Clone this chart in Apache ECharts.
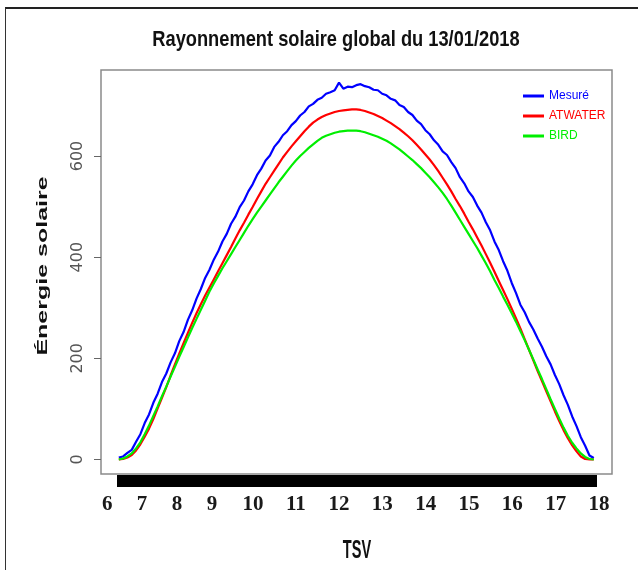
<!DOCTYPE html>
<html><head><meta charset="utf-8">
<script src="https://cdn.jsdelivr.net/npm/echarts@6/dist/echarts.min.js"></script>
<style>
html,body{margin:0;padding:0;background:#fff;}
#chart{width:638px;height:570px;position:relative;}
#frame{position:absolute;left:5px;top:7px;width:650px;height:580px;border-left:1.5px solid #333;border-top:2px solid #222;pointer-events:none;}
</style></head><body>
<div id="chart"></div><div id="frame"></div>
<script>
const tsv = [6.9,7.0,7.1,7.2,7.3,7.4,7.5,7.6,7.7,7.8,7.9,8.0,8.1,8.2,8.3,8.4,8.5,8.6,8.7,8.8,8.9,9.0,9.1,9.2,9.3,9.4,9.5,9.6,9.7,9.8,9.9,10.0,10.1,10.2,10.3,10.4,10.5,10.6,10.7,10.8,10.9,11.0,11.1,11.2,11.3,11.4,11.5,11.6,11.7,11.8,11.9,12.0,12.1,12.2,12.3,12.4,12.5,12.6,12.7,12.8,12.9,13.0,13.1,13.2,13.3,13.4,13.5,13.6,13.7,13.8,13.9,14.0,14.1,14.2,14.3,14.4,14.5,14.6,14.7,14.8,14.9,15.0,15.1,15.2,15.3,15.4,15.5,15.6,15.7,15.8,15.9,16.0,16.1,16.2,16.3,16.4,16.5,16.6,16.7,16.8,16.9,17.0,17.1,17.2,17.3,17.4,17.5,17.6,17.7,17.8,17.9];
const mesure = [4,6,13,19,35,50,72,89,112,130,153,170,192,210,234,252,276,295,318,337,359,375,395,411,431,446,466,480,499,512,530,544,562,575,591,601,618,628,641,649,661,669,680,687,698,703,711,715,723,726,730,745,733,737,736,740,742,738,736,731,730,723,720,713,710,701,697,687,681,670,663,651,643,631,622,609,602,588,576,558,546,530,519,502,488,469,453,431,414,392,373,349,329,306,291,272,257,239,223,204,188,167,149,127,108,85,66,44,27,8,3];
const atwater = [0,1,4,9,18,30,45,61,80,101,122,143,166,188,209,230,250,270,289,307,324,340,356,372,388,404,420,437,453,468,484,499,515,530,545,558,571,584,597,608,619,629,639,649,658,666,672,677,681,684,687,689,690,691,692,692,691,689,686,683,679,675,670,665,659,653,646,639,631,622,613,603,593,582,570,557,544,530,515,501,486,470,455,439,423,406,389,371,353,335,317,298,279,259,238,217,196,175,155,135,115,95,76,58,42,28,16,6,1,0,0];
const bird = [0,2,6,12,22,34,50,67,86,105,125,144,164,183,203,222,241,260,278,296,314,332,348,363,378,392,406,420,434,448,462,475,488,500,512,524,536,548,559,570,581,591,600,608,616,623,630,636,640,643,646,648,649,650,650,650,649,647,644,641,638,634,630,625,619,613,606,599,592,584,576,567,558,548,538,527,515,502,488,474,460,446,432,418,403,388,372,355,339,322,306,289,272,254,236,217,198,178,159,139,119,100,81,63,47,33,22,12,5,1,0];
const seriesNames = ['Mesuré', 'ATWATER', 'BIRD'];
const seriesColors = ['#0000ff', '#ff0000', '#00ee00'];
const xTickLabels = ['6','7','8','9','10','11','12','13','14','15','16','17','18'];
const xTickPos = [6.63,7.44,8.25,9.06,10.01,11.0,12.0,13.0,14.01,15.01,16.01,17.02,18.02];
const yTicks = [0,200,400,600];
const titleText = 'Rayonnement solaire global du 13/01/2018';
const xName = 'TSV';
const yName = 'Énergie solaire';

const chart = echarts.init(document.getElementById('chart'), null, {renderer: 'canvas'});
const values = [mesure, atwater, bird];
const xMin = 6.488, xMax = 18.322;

function label(text, x, y, font, sx, sy, rot) {
  return {
    type: 'text', x: x, y: y, scaleX: sx, scaleY: sy, rotation: rot || 0, silent: true,
    style: {text: text, font: font, fill: '#111', textAlign: 'center', textVerticalAlign: 'middle', align: 'center', verticalAlign: 'middle'}
  };
}

chart.setOption({
  animation: false,
  backgroundColor: '#fff',
  graphic: [
    label(titleText, 336, 40, 'bold 22px "Liberation Sans", Arial, sans-serif', 0.83, 1, 0),
    label(xName, 357, 551, 'bold 26px "Liberation Sans", Arial, sans-serif', 0.56, 1, 0),
    label(yName, 43, 266, 'bold 25px "Liberation Sans", Arial, sans-serif', 1, 0.58, Math.PI / 2)
  ],
  legend: {
    orient: 'vertical', left: 518, top: 85,
    itemWidth: 21, itemHeight: 3, itemGap: 8, icon: 'rect',
    textStyle: {fontFamily: '"Liberation Sans", Arial, sans-serif', fontSize: 12},
    data: seriesNames.map((n, i) => ({name: n, textStyle: {color: seriesColors[i]}}))
  },
  grid: {left: 101, top: 70, width: 511, height: 404, show: true, borderColor: '#8a8a8a', borderWidth: 1.5, backgroundColor: '#fff', containLabel: false},
  xAxis: [{
    type: 'value', min: xMin, max: xMax,
    axisLine: {show: false}, axisTick: {show: false}, splitLine: {show: false},
    axisLabel: {
      customValues: xTickPos, margin: 20,
      fontFamily: '"Liberation Serif", serif', fontWeight: 'bold', fontSize: 21, color: '#1a1a1a',
      formatter: function (v) {
        let best = 0;
        for (let i = 1; i < xTickPos.length; i++) if (Math.abs(xTickPos[i] - v) < Math.abs(xTickPos[best] - v)) best = i;
        return xTickLabels[best];
      }
    }
  }, {
    type: 'value', min: xMin, max: xMax, position: 'bottom', offset: 1,
    axisLine: {show: false}, axisLabel: {show: false}, splitLine: {show: false},
    axisTick: {show: true, customValues: tsv, length: 12, lineStyle: {color: '#000', width: 5}}
  }],
  yAxis: {
    type: 'value', min: -28.7, max: 770,
    axisLine: {show: false}, splitLine: {show: false},
    axisTick: {show: true, customValues: yTicks, length: 7, lineStyle: {color: '#666', width: 1}},
    axisLabel: {customValues: yTicks, rotate: 90, margin: 15, color: '#555', fontFamily: '"DejaVu Sans", sans-serif', fontSize: 16}
  },
  series: seriesNames.map((n, i) => ({
    name: n, type: 'line', xAxisIndex: 0, showSymbol: false, symbol: 'none',
    lineStyle: {color: seriesColors[i], width: 2.2}, itemStyle: {color: seriesColors[i]},
    data: tsv.map((t, k) => [t, values[i][k]])
  }))
});
</script>
</body></html>
